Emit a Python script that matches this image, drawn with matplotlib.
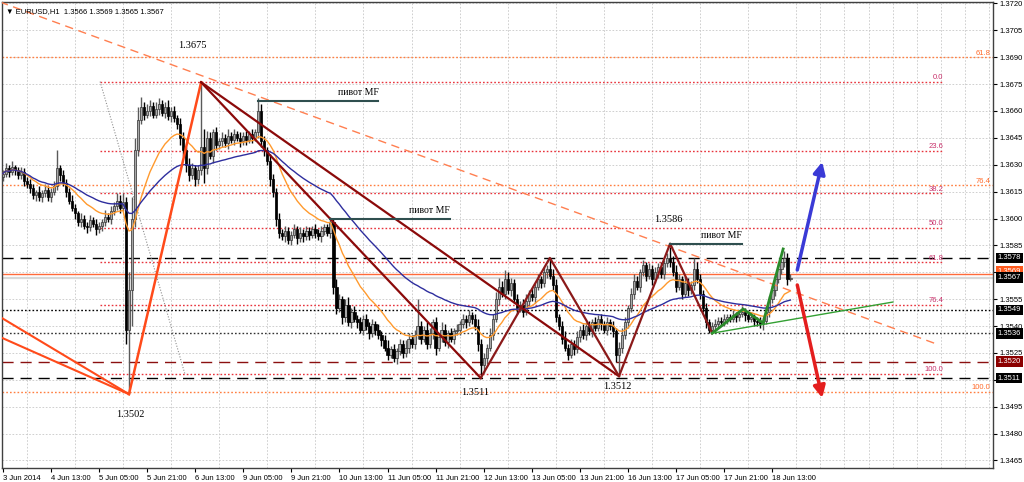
import matplotlib.pyplot as plt
import numpy as np
import pandas as pd

# ---- price data (EURUSD H1), pips above 1.3500 ----
BASE = 1.3500
PIP = 0.0001
first_open = 123
close_pips = [
    125, 128, 126, 129, 127, 124, 126, 121, 119, 117, 113, 115, 112, 114, 116, 112, 115, 118, 128, 124,
    120, 115, 110, 106, 103, 98, 100, 96, 95, 99, 97, 94, 96, 98, 101, 100, 104, 107, 110, 106,
    109, 38, 60, 100, 138, 155, 162, 158, 160, 163, 158, 161, 164, 159, 162, 157, 160, 156, 153, 145,
    138, 130, 124, 128, 122, 127, 140, 128, 145, 135, 148, 141, 143, 145, 142, 146, 144, 147, 145, 143,
    146, 144, 147, 145, 148, 160, 143, 138, 132, 122, 115, 100, 92, 90, 93, 88, 91, 94, 89, 92,
    90, 93, 91, 94, 92, 90, 93, 95, 92, 98, 62, 50, 55, 45, 52, 42, 48, 44, 42, 38,
    44, 40, 36, 41, 38, 35, 32, 28, 24, 27, 22, 26, 30, 25, 28, 33, 30, 35, 40, 33,
    38, 30, 36, 42, 28, 34, 38, 31, 36, 33, 37, 38, 41, 44, 42, 46, 44, 40, 30, 18,
    22, 28, 35, 44, 55, 62, 58, 66, 60, 64, 55, 50, 52, 48, 54, 58, 56, 62, 66, 64,
    70, 72, 68, 63, 45, 40, 33, 28, 24, 30, 27, 34, 38, 35, 40, 37, 42, 39, 44, 41,
    38, 42, 40, 37, 24, 28, 35, 42, 50, 58, 65, 62, 70, 74, 68, 72, 66, 70, 73, 69,
    75, 78, 76, 70, 62, 66, 58, 64, 60, 63, 72, 66, 58, 50, 42, 38, 40, 41, 43, 42,
    44, 45, 44, 46, 45, 47, 48, 46, 44, 45, 43, 42, 41, 43, 48, 55, 60, 66, 72, 76,
    78, 66, 67,
]
wick_up = [
    2, 3, 2, 3, 1, 2, 3, 2, 2, 3, 2, 1, 3, 2, 3, 2, 2, 3, 10, 2,
    3, 2, 2, 3, 2, 1, 3, 2, 2, 3, 2, 3, 2, 2, 4, 2, 3, 2, 4, 3,
    5, 3, 10, 12, 7, 7, 6, 3, 4, 3, 2, 4, 3, 2, 3, 4, 2, 3, 2, 3,
    3, 2, 4, 3, 2, 3, 36, 10, 4, 3, 2, 3, 2, 3, 2, 4, 2, 3, 2, 3,
    2, 3, 2, 3, 2, 7, 4, 3, 2, 4, 3, 2, 3, 2, 3, 2, 2, 3, 2, 3,
    2, 3, 2, 2, 3, 2, 3, 2, 2, 3, 2, 4, 3, 2, 3, 4, 2, 3, 2, 3,
    2, 3, 2, 3, 2, 3, 2, 3, 4, 2, 3, 2, 3, 2, 4, 3, 2, 3, 15, 3,
    2, 4, 3, 2, 3, 2, 4, 3, 2, 3, 2, 3, 2, 3, 2, 3, 2, 3, 4, 3,
    3, 2, 4, 3, 4, 5, 3, 5, 4, 3, 2, 3, 2, 3, 4, 2, 3, 2, 3, 2,
    3, 2, 6, 4, 3, 2, 3, 4, 2, 3, 2, 3, 2, 3, 2, 3, 2, 3, 2, 3,
    2, 3, 2, 3, 2, 3, 4, 3, 2, 3, 4, 3, 2, 3, 2, 3, 2, 3, 2, 3,
    2, 3, 8, 3, 4, 3, 2, 4, 3, 2, 6, 4, 3, 2, 3, 2, 2, 3, 2, 2,
    3, 2, 2, 3, 2, 2, 3, 2, 2, 3, 2, 2, 3, 2, 3, 2, 3, 2, 3, 2,
    4, 3, 2,
]
wick_dn = [
    2, 2, 3, 2, 3, 2, 2, 3, 2, 3, 2, 3, 2, 3, 2, 2, 3, 2, 2, 3,
    2, 3, 2, 2, 3, 2, 3, 2, 3, 2, 2, 3, 2, 3, 2, 2, 3, 2, 2, 3,
    2, 8, 36, 20, 5, 3, 2, 3, 2, 3, 2, 2, 3, 2, 3, 2, 3, 2, 3, 4,
    3, 4, 3, 2, 4, 3, 3, 8, 3, 2, 4, 3, 2, 3, 2, 3, 2, 3, 2, 3,
    2, 3, 2, 3, 2, 3, 3, 3, 2, 4, 3, 4, 3, 2, 3, 2, 3, 2, 3, 2,
    3, 2, 3, 2, 3, 2, 3, 2, 2, 3, 4, 3, 2, 4, 3, 2, 3, 2, 3, 2,
    3, 2, 3, 2, 3, 2, 3, 2, 3, 2, 2, 3, 2, 3, 2, 3, 2, 3, 2, 3,
    2, 3, 2, 3, 4, 2, 3, 2, 3, 2, 3, 2, 3, 2, 3, 2, 3, 2, 4, 7,
    4, 3, 2, 3, 2, 3, 2, 3, 2, 3, 2, 3, 2, 3, 2, 3, 2, 3, 2, 3,
    2, 3, 2, 3, 3, 2, 3, 2, 3, 2, 3, 2, 3, 2, 3, 2, 3, 2, 2, 3,
    2, 3, 2, 3, 4, 12, 3, 2, 3, 2, 3, 2, 3, 2, 3, 2, 3, 2, 3, 2,
    3, 2, 3, 2, 3, 2, 3, 2, 3, 2, 3, 2, 3, 2, 3, 2, 2, 3, 2, 2,
    2, 3, 2, 2, 3, 2, 2, 3, 2, 2, 3, 2, 2, 3, 2, 3, 2, 3, 2, 3,
    3, 3, 1,
]

date_ticks = ["3 Jun 2014", "4 Jun 13:00", "5 Jun 05:00", "5 Jun 21:00", "6 Jun 13:00",
              "9 Jun 05:00", "9 Jun 21:00", "10 Jun 13:00", "11 Jun 05:00", "11 Jun 21:00",
              "12 Jun 13:00", "13 Jun 05:00", "13 Jun 21:00", "16 Jun 13:00", "17 Jun 05:00",
              "17 Jun 21:00", "18 Jun 13:00"]

# ---- drawn objects (bar index, price) ----
trend_dashed = [(-0.9, 1.37208), (310.1, 1.35303)]
left_lines = [[(-0.9, 1.35451), (42, 1.3502)], [(-0.9, 1.35339), (42, 1.3502)]]
up_leg = [(42, 1.3502), (66, 1.3676)]
fan_lines = [[(66, 1.3676), (159, 1.3511)], [(66, 1.3676), (205, 1.3512)]]
zigzag = [(159, 1.3511), (182, 1.3578), (205, 1.3512), (222, 1.3586), (236, 1.3536)]
green_zigzag = [(236, 1.3536), (246.3, 1.35495), (252.9, 1.35417), (259.6, 1.3583)]
green_line = [(236, 1.3536), (296.1, 1.35534)]
fib_anchor = [(32.4, 1.36764), (60.6, 1.35133)]
fib_red = (1.36764, 1.35133)
fib_red_levels = [0.0, 23.6, 38.2, 50.0, 61.8, 76.4, 100.0]
fib_orange = (1.3992, 1.35032)
fib_orange_levels = [61.8, 76.4, 100.0]
pivots = [(85, 125, 1.36656), (109, 148.8, 1.3600), (222, 246, 1.3586)]
price_notes = [("1.3675", 63, 1.36968), ("1.3502", 42.3, 1.34904), ("1.3511", 157.1, 1.35027),
               ("1.3512", 204.4, 1.3506), ("1.3586", 221.3, 1.35995)]
arrow_up = [(264.3, 1.35713), (272.6, 1.36316)]
arrow_dn = [(264.3, 1.35629), (272.6, 1.34999)]
levels = [(1.3578, 'black', 'dash'), (1.3549, 'black', 'dot'), (1.3536, '#333333', 'dot'),
          (1.3520, '#8b1010', 'dash'), (1.3511, 'black', 'dash')]
# (price shown, price where the box sits, colour)
price_boxes = [(1.3578, 1.3578, 'black'), (1.3569, 1.35705, '#ff5a1e'), (1.3567, 1.3567, 'black'),
               (1.3549, 1.3549, 'black'), (1.3536, 1.3536, 'black'), (1.3520, 1.3520, '#8b0000'),
               (1.3511, 1.3511, 'black')]
hidden_ticks = [1.3570, 1.3510]

# ---- build candles ----
c = np.array(close_pips, dtype=float)
o = np.r_[first_open, c[:-1]]
h = np.maximum(o, c) + np.array(wick_up)
lo = np.minimum(o, c) - np.array(wick_dn)
closes, opens, highs, lows = [BASE + a * PIP for a in (c, o, h, lo)]
idx = np.arange(len(c))
ema_fast = pd.Series(closes).ewm(span=17).mean()
ema_slow = pd.Series(closes).ewm(span=55).mean()

fig = plt.figure(figsize=(10.24, 4.82), dpi=100)
ax = fig.add_axes([2 / 1024, 14 / 482, 991 / 1024, 466 / 482])
ax.set_xlim(-0.23, 329.4)
ax.set_ylim(1.34608, 1.37208)

# grid and scales
ax.set_xticks(np.arange(0, 257, 16))
ax.set_xticks(np.arange(0, 330, 8), minor=True)
ax.set_xticklabels(date_ticks)
for t in ax.get_xticklabels():
    t.set_ha('left')
yt = np.round(np.arange(1.3465, 1.37201, 0.0015), 4)
ax.set_yticks(yt)
ax.set_yticklabels(['' if any(abs(v - hv) < 1e-6 for hv in hidden_ticks) else '%.4f' % v for v in yt])
ax.yaxis.tick_right()
ax.grid(which='minor', axis='x', color='#c8c8c8', lw=0.6, ls=(0, (2, 2)))
ax.grid(which='major', axis='y', color='#c8c8c8', lw=0.6, ls=(0, (2, 2)))
ax.tick_params(axis='x', which='minor', length=0)
ax.tick_params(axis='x', which='major', labelsize=5.5, length=3, pad=2)
ax.tick_params(axis='y', labelsize=5.5, length=3, pad=2)
for lab in ax.get_xticklabels() + ax.get_yticklabels():
    lab.set_family('Liberation Sans')
for s in ax.spines.values():
    s.set_color('#404040')
    s.set_lw(1)

# horizontal levels
for price, col, kind in levels:
    ls = (0, (8, 5)) if kind == 'dash' else (0, (1.2, 1.5))
    ax.axhline(price, color=col, lw=1, ls=ls, zorder=2)
ax.axhline(1.3567, color='#d8d8d8', lw=1.6, zorder=2)
ax.axhline(1.3569, color='#ff6a3a', lw=1, zorder=2)

# fibonacci
for lv in fib_red_levels:
    p = fib_red[1] + (fib_red[0] - fib_red[1]) * (1 - lv / 100)
    ax.plot([32.4, 312.8], [p, p], color='#e8333c', lw=1, ls=(0, (1.2, 1.5)), zorder=2)
    ax.text(312.8, p + 0.00004, '%.1f' % lv, color='#c8306a', fontsize=5.5,
            family='Liberation Sans', ha='right', va='bottom', zorder=6)
for lv in fib_orange_levels:
    p = fib_orange[1] + (fib_orange[0] - fib_orange[1]) * (1 - lv / 100)
    ax.axhline(p, color='#ff7f40', lw=1, ls=(0, (1.2, 1.5)), zorder=2)
    ax.text(328.5, p + 0.00004, '%.1f' % lv, color='#ff6a2a', fontsize=5.5,
            family='Liberation Sans', ha='right', va='bottom', zorder=6)
ax.plot(*zip(*fib_anchor), color='#909090', lw=0.8, ls=(0, (1, 1.5)), zorder=2)

# candles
up = closes >= opens
dn = ~up
ax.vlines(idx[up], lows[up], highs[up], color='#5a5a5a', lw=1, zorder=3)
ax.vlines(idx[dn], lows[dn], highs[dn], color='black', lw=1, zorder=3)
body_lo = np.minimum(opens, closes)
body_h = np.maximum(np.abs(closes - opens), 0.00003)
ax.bar(idx[up], body_h[up], bottom=body_lo[up], width=0.78, color='#a8a8a8',
       edgecolor='#303030', lw=0.5, zorder=3.1)
ax.bar(idx[dn], body_h[dn], bottom=body_lo[dn], width=0.78, color='black',
       edgecolor='black', lw=0.5, zorder=3.1)

# moving averages
ax.plot(idx, ema_fast, color='#ff9a2e', lw=1, zorder=4)
ax.plot(idx, ema_slow, color='#2e2e9e', lw=1, zorder=4)

# drawn lines
ax.plot(*zip(*trend_dashed), color='#ff7f50', lw=1, ls=(0, (6, 4)), zorder=5)
for ln in left_lines:
    ax.plot(*zip(*ln), color='#ff4a1a', lw=1.5, zorder=5)
ax.plot(*zip(*up_leg), color='#ff4a1a', lw=1.8, zorder=5)
for ln in fan_lines:
    ax.plot(*zip(*ln), color='#8b0a0a', lw=1.6, zorder=5)
ax.plot(*zip(*zigzag), color='#8b1a1a', lw=1.6, zorder=5)
ax.plot(*zip(*green_zigzag), color='#2a8a2a', lw=2, zorder=5)
ax.plot(*zip(*green_line), color='#33a033', lw=1, zorder=5)

for x0, x1, p in pivots:
    ax.plot([x0, x1], [p, p], color='#2f4f4f', lw=1.5, zorder=5)
    ax.text(x1, p + 0.00022, 'пивот MF', family='Liberation Serif', fontsize=7,
            ha='right', va='bottom', zorder=6)
for txt, x, p in price_notes:
    ax.text(x, p, txt, family='Liberation Serif', fontsize=7.5, ha='center',
            va='center', zorder=6)

ax.annotate('', xy=arrow_up[1], xytext=arrow_up[0], zorder=6,
            arrowprops=dict(arrowstyle='-|>,head_length=0.7,head_width=0.35',
                            color='#3a3ad6', lw=2.5, shrinkA=0, shrinkB=0))
ax.annotate('', xy=arrow_dn[1], xytext=arrow_dn[0], zorder=6,
            arrowprops=dict(arrowstyle='-|>,head_length=0.7,head_width=0.35',
                            color='#e41e1e', lw=2.5, shrinkA=0, shrinkB=0))

# price boxes on the right scale
tr = ax.get_yaxis_transform()
for shown, p, col in price_boxes:
    ax.text(1.0045, p, '%.4f' % shown, transform=tr, color='white', fontsize=5.5,
            family='Liberation Sans', ha='left', va='center', clip_on=False, zorder=7,
            bbox=dict(boxstyle='square,pad=0.25', fc=col, ec='none'))

ax.text(0.004, 0.988, '▼ EURUSD,H1  1.3566 1.3569 1.3565 1.3567', transform=ax.transAxes,
        fontsize=5.5, family=['Liberation Sans', 'DejaVu Sans'], va='top', ha='left', zorder=7)

fig.savefig('out.png', dpi=100)
